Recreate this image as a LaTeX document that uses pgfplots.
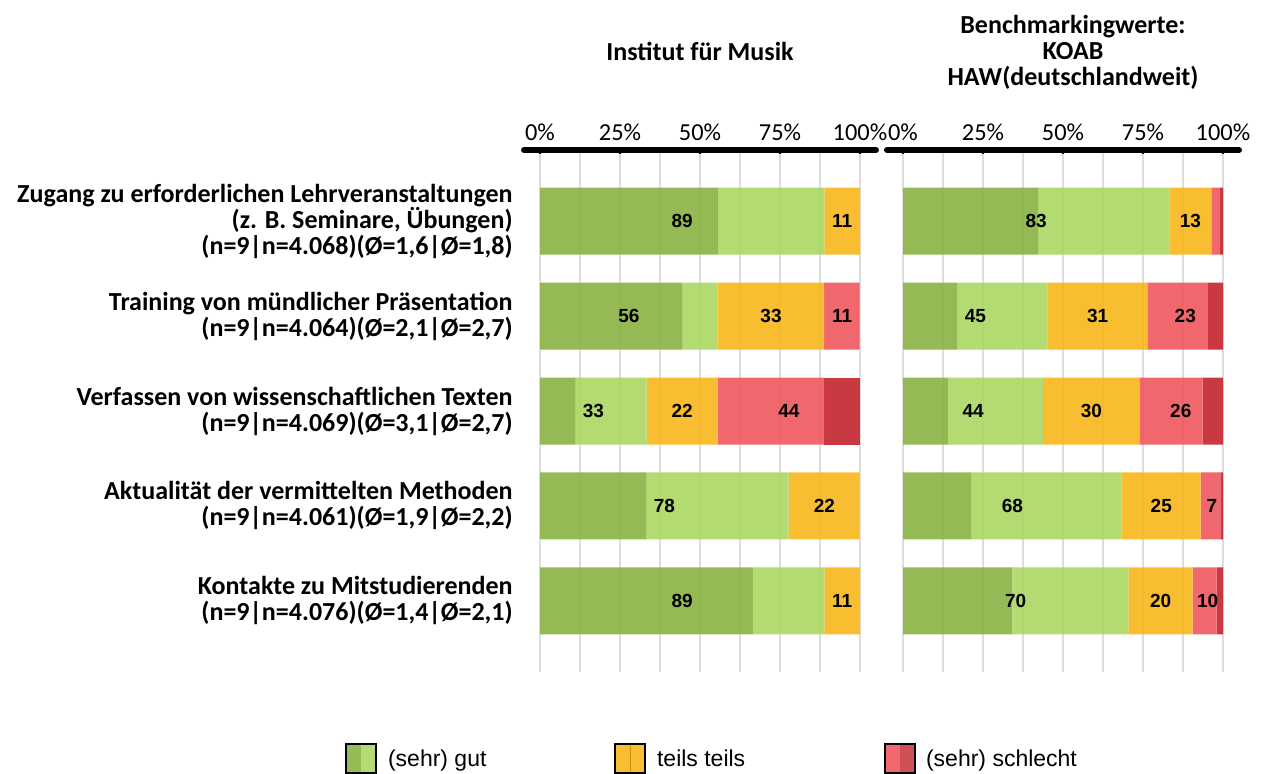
\documentclass[border=0pt]{standalone}
\usepackage{pgfplots}
\pgfplotsset{compat=1.18}
\usepackage{pgfplotstable}
\usepackage{fontspec}
\setmainfont{Carlito}
\newfontfamily\arial{Liberation Sans}

\definecolor{dg}{HTML}{89B342}
\definecolor{lg}{HTML}{ABD763}
\definecolor{te}{HTML}{F8B61B}
\definecolor{lr}{HTML}{F0575E}
\definecolor{dr}{HTML}{C3242D}

% Institut fuer Musik (n=9)
\pgfplotstableread{
row dg lg te lr dr
1 55.6 33.3 11.1 0 0
2 44.4 11.1 33.3 11.1 0
3 11.1 22.2 22.2 33.3 11.1
4 33.3 44.4 22.2 0 0
5 66.7 22.2 11.1 0 0
}\musik
% KOAB HAW
\pgfplotstableread{
row dg lg te lr dr
1 42.2 41.0 13.2 2.7 0.9
2 16.8 28.3 31.3 18.7 4.9
3 14.0 29.8 30.1 19.7 6.4
4 21.3 47.0 24.7 6.2 0.8
5 34.2 36.2 20.1 7.5 2.0
}\koab

\pgfplotstableread{
x y lab
44.4 1 89
94.4 1 11
27.8 2 56
72.2 2 33
94.4 2 11
16.7 3 33
44.4 3 22
77.8 3 44
38.9 4 78
88.9 4 22
44.4 5 89
94.4 5 11
}\musiklab
\pgfplotstableread{
x y lab
41.6 1 83
89.8 1 13
22.6 2 45
60.8 2 31
88.2 2 23
21.9 3 44
58.9 3 30
86.8 3 26
34.2 4 68
80.7 4 25
96.5 4 7
35.2 5 70
80.5 5 20
95.2 5 10
}\koablab

\pgfplotsset{
  frame/.style={
    anchor=south west, scale only axis,
    width=160pt, height=261pt,
    xmin=0, xmax=100, ymin=0.25, ymax=5.75, y dir=reverse,
  },
  panel/.style={
    frame,
    xbar stacked, bar width=33.5pt,
    axis line style={draw=none},
    xtick={0,25,50,75,100},
    xticklabels={0\%,25\%,50\%,75\%,100\%},
    minor xtick={12.5,37.5,62.5,87.5},
    xmajorgrids, xminorgrids,
    major grid style={black!13, line width=1.1pt},
    minor grid style={black!13, line width=1.1pt},
    xtick pos=right, xticklabel pos=right,
    tick align=inside,
    major tick length=2pt, minor tick length=0pt,
    xtick style={black, line width=1pt},
    ytick={1,2,3,4,5}, ytick style={draw=none},
    xticklabel style={font=\fontsize{12.2}{13}\selectfont, yshift=1pt},
    clip=false,
  },
  labels/.style={
    frame, hide axis,
    nodes near coords, nodes near coords align={center},
    point meta=explicit symbolic,
    every node near coord/.append style={font=\arial\bfseries\fontsize{9.5}{10}\selectfont, text=black},
  },
}

\begin{document}
\begin{tikzpicture}[x=0.5pt, y=0.5pt]
\path[use as bounding box] (0,0) rectangle (1263,774);

\begin{axis}[panel, at={(270pt,51pt)},
  yticklabels={
    {Zugang zu erforderlichen Lehrveranstaltungen\\(z. B. Seminare, Übungen)\\(n=9|n=4.068)(Ø=1,6|Ø=1,8)},
    {Training von mündlicher Präsentation\\(n=9|n=4.064)(Ø=2,1|Ø=2,7)},
    {Verfassen von wissenschaftlichen Texten\\(n=9|n=4.069)(Ø=3,1|Ø=2,7)},
    {Aktualität der vermittelten Methoden\\(n=9|n=4.061)(Ø=1,9|Ø=2,2)},
    {Kontakte zu Mitstudierenden\\(n=9|n=4.076)(Ø=1,4|Ø=2,1)}},
  yticklabel style={font=\bfseries\fontsize{13}{13}\selectfont, align=right, inner sep=0pt, xshift=-13.5pt},
]
\addplot[fill=dg, draw=none, fill opacity=0.9] table[x=dg, y=row]{\musik};
\addplot[fill=lg, draw=none, fill opacity=0.9] table[x=lg, y=row]{\musik};
\addplot[fill=te, draw=none, fill opacity=0.9] table[x=te, y=row]{\musik};
\addplot[fill=lr, draw=none, fill opacity=0.9] table[x=lr, y=row]{\musik};
\addplot[fill=dr, draw=none, fill opacity=0.9] table[x=dr, y=row]{\musik};
\draw[line width=3pt, line cap=round] (axis cs:-5,0.25) -- (axis cs:105,0.25);
\end{axis}
\begin{axis}[labels, at={(270pt,51pt)}]
\addplot[draw=none] table[x=x, y=y, meta=lab]{\musiklab};
\end{axis}

\begin{axis}[panel, at={(451.5pt,51pt)}, yticklabels={}]
\addplot[fill=dg, draw=none, fill opacity=0.9] table[x=dg, y=row]{\koab};
\addplot[fill=lg, draw=none, fill opacity=0.9] table[x=lg, y=row]{\koab};
\addplot[fill=te, draw=none, fill opacity=0.9] table[x=te, y=row]{\koab};
\addplot[fill=lr, draw=none, fill opacity=0.9] table[x=lr, y=row]{\koab};
\addplot[fill=dr, draw=none, fill opacity=0.9] table[x=dr, y=row]{\koab};
\draw[line width=3pt, line cap=round] (axis cs:-5,0.25) -- (axis cs:105,0.25);
\end{axis}
\begin{axis}[labels, at={(451.5pt,51pt)}]
\addplot[draw=none] table[x=x, y=y, meta=lab]{\koablab};
\end{axis}

\node[font=\bfseries\fontsize{13}{13}\selectfont] at (700,723) {Institut für Musik};
\node[font=\bfseries\fontsize{13}{13}\selectfont, align=center] at (1073,722)
  {Benchmarkingwerte:\\KOAB\\HAW(deutschlandweit)};

% legend
\fill[dg!90!white] (346,1) rectangle (361,30);
\fill[lg!90!white] (361,1) rectangle (376,30);
\draw[line width=0.7pt] (346,1) rectangle (376,30);
\node[anchor=base west, font=\arial\fontsize{11.5}{13}\selectfont] at (381,7) {(sehr) gut};
\fill[te!90!white] (615,1) rectangle (645,30);
\draw[te!80!black, line width=0.3pt] (630,1) -- (630,30);
\draw[line width=0.7pt] (615,1) rectangle (645,30);
\node[anchor=base west, font=\arial\fontsize{11.5}{13}\selectfont] at (650,7) {teils teils};
\fill[lr!90!white] (885,1) rectangle (900,30);
\fill[dr!80!white] (900,1) rectangle (915,30);
\draw[line width=0.7pt] (885,1) rectangle (915,30);
\node[anchor=base west, font=\arial\fontsize{11.5}{13}\selectfont] at (919,7) {(sehr) schlecht};
\end{tikzpicture}
\end{document}
